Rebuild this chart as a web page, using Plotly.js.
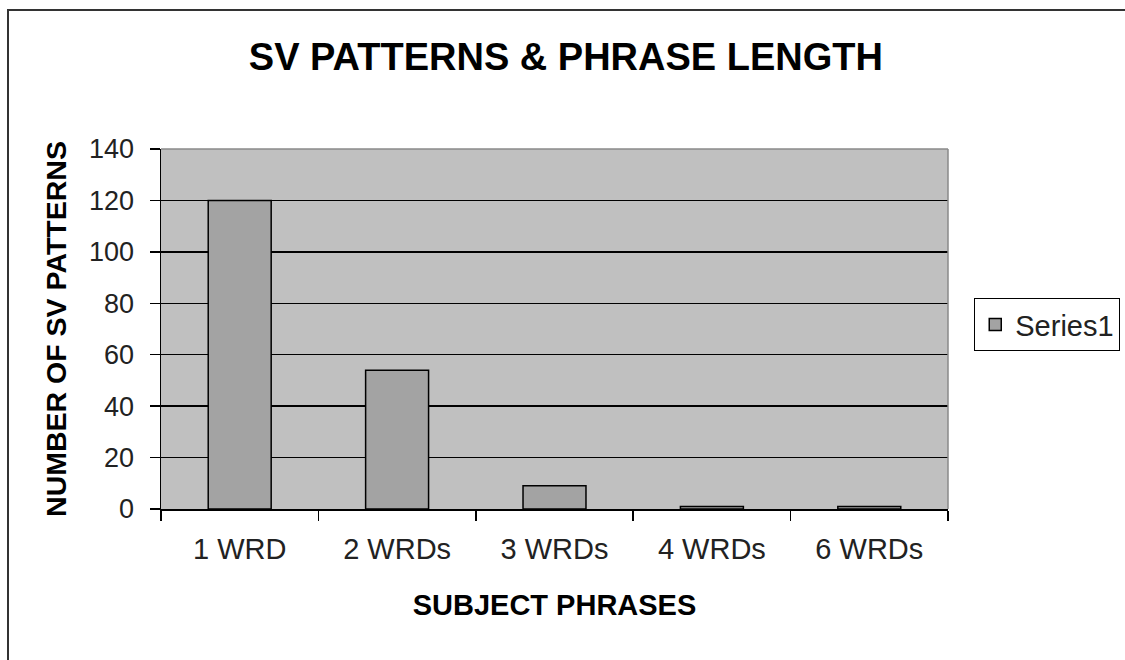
<!DOCTYPE html>
<html>
<head>
<meta charset="utf-8">
<script src="https://cdn.plot.ly/plotly-3.0.1.min.js"></script>
<style>
html,body{margin:0;padding:0;background:#fff;}
#wrap{position:absolute;left:0;top:0;width:1125px;height:660px;}
#frame{position:absolute;left:7px;top:9px;width:1130px;height:660px;border-left:2px solid #333;border-top:2px solid #333;pointer-events:none;z-index:5;}
#chart{position:absolute;left:0;top:0;width:1125px;height:660px;}
</style>
</head>
<body>
<div id="wrap">
<div id="chart"></div>
<div id="frame"></div>
</div>
<script>
const categories = ["1 WRD", "2 WRDs", "3 WRDs", "4 WRDs", "6 WRDs"];
const series1 = [120, 54, 9, 1, 1];
const yTicks = [0, 20, 40, 60, 80, 100, 120, 140];

const font = '"Liberation Sans", Arial, sans-serif';

const trace = {
  type: 'bar',
  name: 'Series1',
  x: categories,
  y: series1,
  marker: {color: '#a3a3a3', line: {color: '#000', width: 1.5}},
  hoverinfo: 'x+y'
};

const layout = {
  width: 1125, height: 660,
  margin: {l: 161, r: 177, t: 149, b: 151},
  paper_bgcolor: '#fff',
  plot_bgcolor: '#c0c0c0',
  bargap: 0.6,
  font: {family: font, color: '#111'},
  title: {
    text: '<b>SV PATTERNS &amp; PHRASE LENGTH</b>',
    font: {family: font, size: 38, color: '#000'},
    x: 0.503, xanchor: 'center', y: 0.914, yanchor: 'middle'
  },
  xaxis: {
    type: 'category',
    tickson: 'boundaries',
    ticks: 'outside', ticklen: 10, tickwidth: 1.5, tickcolor: '#000',
    showline: true, linecolor: '#000', linewidth: 1.5,
    showgrid: false,
    tickfont: {family: font, size: 29, color: '#222'},
    ticklabelstandoff: 14,
    automargin: false,
    title: {text: '<b>SUBJECT PHRASES</b>', font: {family: font, size: 29, color: '#000'}, standoff: 30}
  },
  yaxis: {
    range: [0, 140],
    tickvals: yTicks,
    ticks: 'outside', ticklen: 10, tickwidth: 1.5, tickcolor: '#000',
    showline: true, linecolor: '#000', linewidth: 1.5,
    showgrid: true, gridcolor: '#000', gridwidth: 1.5,
    zeroline: false,
    tickfont: {family: font, size: 27, color: '#222'},
    ticklabelstandoff: 10,
    automargin: false,
    title: {text: '<b>NUMBER OF SV PATTERNS</b>', font: {family: font, size: 28.5, color: '#000'}, standoff: 14}
  },
  showlegend: true,
  legend: {
    xref: 'container', yref: 'container',
    x: 0.866, xanchor: 'left', y: 0.508, yanchor: 'middle',
    bgcolor: '#fff', bordercolor: '#000', borderwidth: 1,
    font: {family: font, size: 29, color: '#222'},
    itemwidth: 30,
    tracegroupgap: 0
  },
  shapes: [
    {type: 'line', xref: 'paper', yref: 'paper', x0: 0, x1: 1, y0: 1, y1: 1, line: {color: '#8a8a8a', width: 1.5}, layer: 'above'},
    {type: 'line', xref: 'paper', yref: 'paper', x0: 1, x1: 1, y0: 0, y1: 1, line: {color: '#8a8a8a', width: 1.5}, layer: 'above'}
  ]
};

Plotly.newPlot('chart', [trace], layout, {displayModeBar: false, staticPlot: true});
</script>
</body>
</html>
